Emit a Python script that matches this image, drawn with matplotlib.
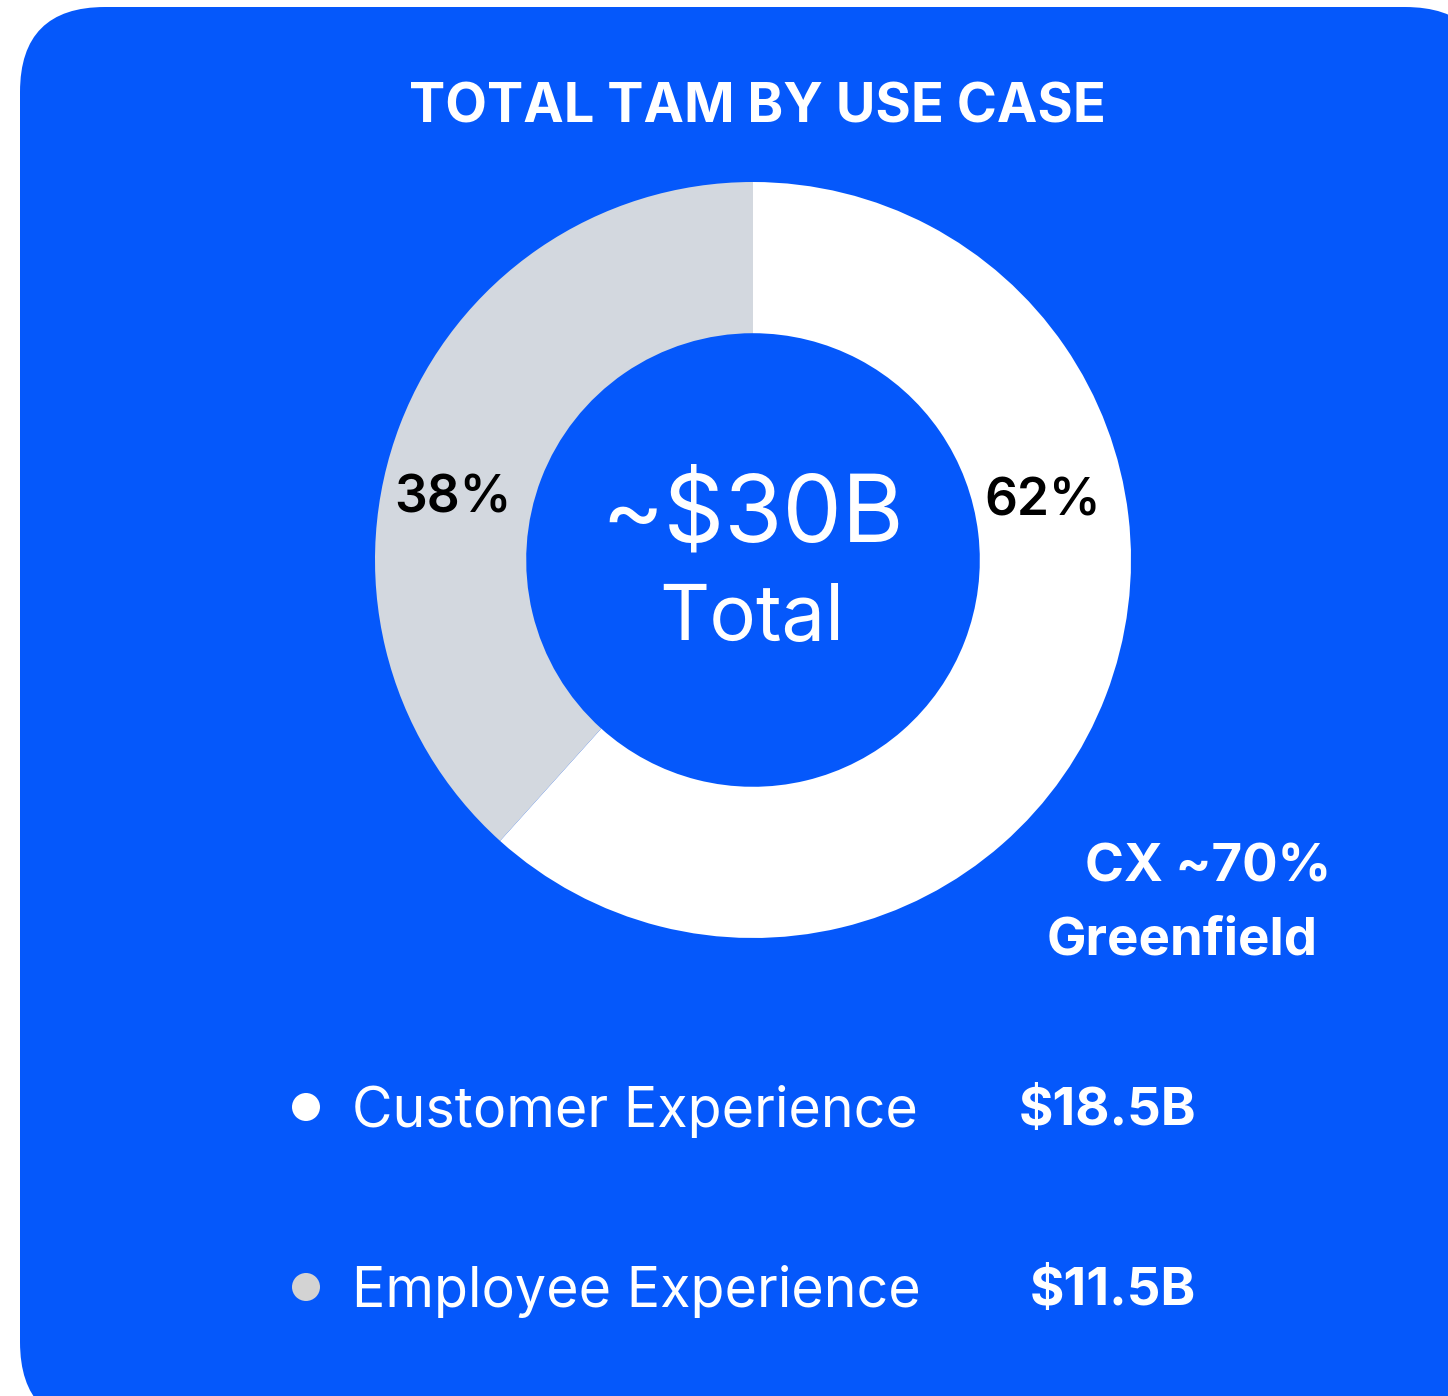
import matplotlib
matplotlib.use('Agg')
import matplotlib.pyplot as plt
from matplotlib.patches import FancyBboxPatch, Circle

plt.rcParams['font.family'] = ['Inter', 'DejaVu Sans']

# data
categories = ['Customer Experience', 'Employee Experience']
values = [18.5, 11.5]          # $B
value_labels = ['$18.5B', '$11.5B']
pct_labels = ['62%', '38%']
colors = ['#FFFFFF', '#D3D8DF']
dot_colors = ['#FFFFFF', '#D3D3D3']
title = 'TOTAL TAM BY USE CASE'
center_big = '~$30B'
center_small = 'Total'
note = ['CX ~70%', 'Greenfield']

BLUE = '#0558FB'
W, H = 1448, 1396

fig = plt.figure(figsize=(W / 100, H / 100), dpi=100)
fig.patch.set_facecolor('white')

# background axes in pixel coords (y down)
bg = fig.add_axes([0, 0, 1, 1])
bg.set_xlim(0, W)
bg.set_ylim(H, 0)
bg.axis('off')
bg.add_patch(FancyBboxPatch((20, 7), 1470, 1420,
                            boxstyle='round,pad=0,rounding_size=85',
                            facecolor=BLUE, edgecolor='none'))

# donut
cx, cy, r = 753, 560, 378
pax = fig.add_axes([(cx - r) / W, (H - cy - r) / H, 2 * r / W, 2 * r / H])
pax.pie(values, colors=colors, startangle=90, counterclock=False, radius=1,
        wedgeprops=dict(width=0.4, edgecolor='none'))
pax.set_xlim(-1, 1)
pax.set_ylim(-1, 1)
pax.axis('off')

# text layer on top of everything
tx = fig.add_axes([0, 0, 1, 1])
tx.set_xlim(0, W)
tx.set_ylim(H, 0)
tx.axis('off')
tx.patch.set_alpha(0)

tx.text(757, 108, title, color='white', fontsize=39, fontweight='bold',
        ha='center', va='center')

tx.text(453, 499, pct_labels[1], color='black', fontsize=37, fontweight='semibold',
        ha='center', va='center')
tx.text(1043, 502, pct_labels[0], color='black', fontsize=37, fontweight='semibold',
        ha='center', va='center')

tx.text(753, 516, center_big, color='white', fontsize=68, fontweight='normal',
        ha='center', va='center')
tx.text(752, 620, center_small, color='white', fontsize=56, fontweight='normal',
        ha='center', va='center')

tx.text(1208, 868, note[0], color='white', fontsize=38, fontweight='bold',
        ha='center', va='center')
tx.text(1182, 941, note[1], color='white', fontsize=38, fontweight='bold',
        ha='center', va='center')

# legend
rows_y = [1107, 1287]
for i, name in enumerate(categories):
    y = rows_y[i]
    tx.add_patch(Circle((306, y), 14, facecolor=dot_colors[i], edgecolor='none'))
    tx.text(352, y + 4, name, color='white', fontsize=40, fontweight='normal',
            ha='left', va='center')
    tx.text(1196, y + 4, value_labels[i], color='white', fontsize=38, fontweight='bold',
            ha='right', va='center')

fig.savefig('out.png', dpi=100, facecolor=fig.get_facecolor())
